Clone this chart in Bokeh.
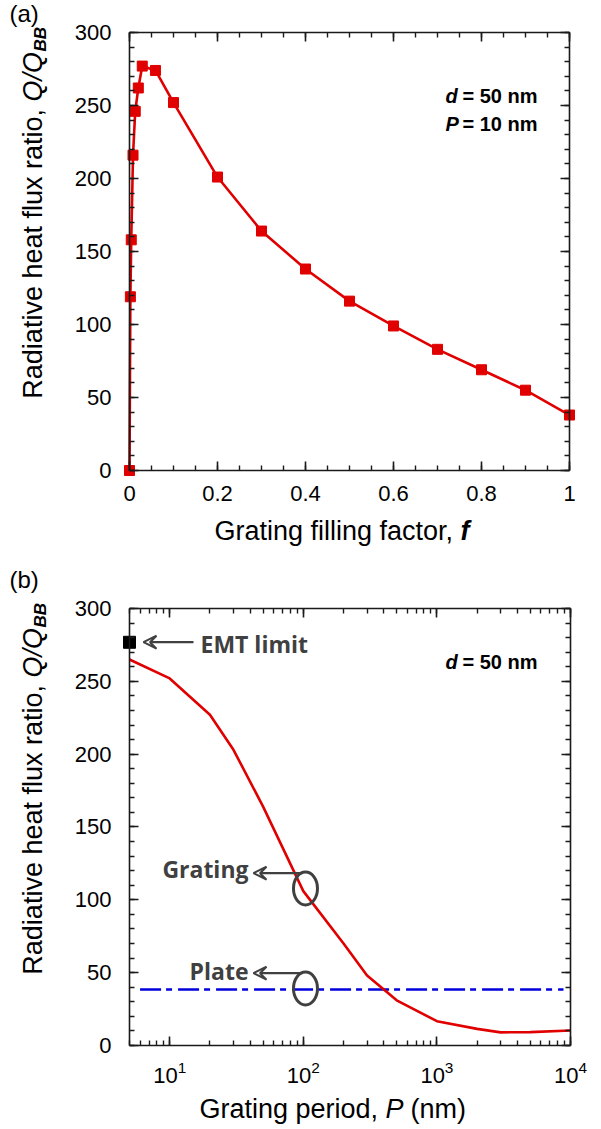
import numpy as np
from bokeh.plotting import figure
from bokeh.models import (Range1d, LinearAxis, LogAxis, FixedTicker, LogTicker,
                          SingleIntervalTicker, Label, Arrow, VeeHead,
                          CustomJSTickFormatter)
from bokeh.layouts import column
from bokeh.embed import file_html
from bokeh.resources import INLINE

# ---------------- data: panel (a) ----------------
fill_factor = [0.0, 0.002, 0.004, 0.008, 0.013, 0.02, 0.029, 0.059, 0.1,
               0.2, 0.3, 0.4, 0.5, 0.6, 0.7, 0.8, 0.9, 1.0]
flux_ratio_a = [0, 119, 158, 216, 246, 262, 277, 274, 252,
                201, 164, 138, 116, 99, 83, 69, 55, 38]
f_ticks = [0.0, 0.2, 0.4, 0.6, 0.8, 1.0]
f_tick_labels = ["0", "0.2", "0.4", "0.6", "0.8", "1"]
f_minor_ticks = [0.05 * i for i in range(21)]

# ---------------- data: panel (b) ----------------
period = [5, 10, 20, 30, 50, 100, 200, 300, 500, 1000, 2000, 3000, 5000, 10000]
flux_ratio_grating = [265, 252, 227, 203, 164, 106, 70, 48, 31, 16.7, 11.4, 9.0, 9.2, 10.3]
plate_period = [6.0, 8860]
plate_ratio = [38.4, 38.4]
emt_period = [5]
emt_ratio = [276.8]
ring_period = [103.8, 103.8]
ring_ratio = [107.8, 39.1]

RED = "#e00000"
GRAY = "#404040"
AX = "#1a1a1a"
FONT = "Liberation Sans"
blank = CustomJSTickFormatter(code="return ''")

# page-pixel -> data helpers (used only to place annotations / canvas extents)
def ax_(px): return (px - 129) / 440.0
def ay_(py): return (470 - py) / 1.46
LOG5 = np.log10(5)
def bx_(px): return 10 ** (LOG5 + (px - 129) / 133.6)
def by_(py): return (1045 - py) / 1.4567


def style_axis(ax, labels=True, standoff=17):
    ax.axis_line_color = AX
    ax.axis_line_width = 1.6
    ax.major_tick_in = 9
    ax.major_tick_out = 0
    ax.minor_tick_in = 5
    ax.minor_tick_out = 0
    ax.major_tick_line_color = AX
    ax.minor_tick_line_color = AX
    ax.major_tick_line_width = 1.6
    ax.minor_tick_line_width = 1.4
    ax.major_label_text_font = FONT
    ax.major_label_text_font_size = "22px"
    ax.major_label_text_color = "black"
    ax.major_label_standoff = standoff
    if not labels:
        ax.formatter = blank
        ax.major_label_standoff = 0


def lab(p, x, y, text, size="27px", style="normal", font=FONT,
        align="left", baseline="middle", angle=0.0, color="black"):
    p.add_layout(Label(x=x, y=y, text=text, text_font=font, text_font_size=size,
                       text_font_style=style, text_align=align,
                       text_baseline=baseline, angle=angle, text_color=color))


def base_fig(height, x_range, y_range, **kw):
    p = figure(width=600, height=height, x_range=x_range, y_range=y_range,
               output_backend="svg", toolbar_location=None,
               min_border_left=0, min_border_right=0, min_border_top=0,
               min_border_bottom=0, **kw)
    p.grid.visible = False
    p.outline_line_color = None
    return p


# ================= panel (a) =================
p1 = base_fig(550, Range1d(ax_(0), ax_(600)), Range1d(ay_(550), ay_(0)))

xt1 = FixedTicker(ticks=f_ticks, minor_ticks=f_minor_ticks)
yt1 = SingleIntervalTicker(interval=50, num_minor_ticks=5)
bx1 = p1.xaxis[0]
ly1 = p1.yaxis[0]
bx1.ticker = xt1
ly1.ticker = yt1
bx1.major_label_overrides = dict(zip(f_ticks, f_tick_labels))
style_axis(bx1, standoff=15)
style_axis(ly1, standoff=18)
bx1.fixed_location = 0
bx1.bounds = (0, 1)
ly1.fixed_location = 0
ly1.bounds = (0, 300)
top1 = LinearAxis(ticker=xt1, fixed_location=300, bounds=(0, 1))
right1 = LinearAxis(ticker=yt1, fixed_location=1, bounds=(0, 300))
style_axis(top1, labels=False)
style_axis(right1, labels=False)
p1.add_layout(top1, "above")
p1.add_layout(right1, "right")

p1.line(fill_factor, flux_ratio_a, line_color=RED, line_width=2.6)
p1.scatter(fill_factor, flux_ratio_a, marker="square", size=10,
           fill_color=RED, line_color=RED)

lab(p1, ax_(9), ay_(13), "(a)", size="24px")
lab(p1, ax_(445), ay_(95), "d", size="20px", style="bold italic")
lab(p1, ax_(462), ay_(95), "= 50 nm", size="20px", style="bold")
lab(p1, ax_(445), ay_(123), "P", size="20px", style="bold italic")
lab(p1, ax_(462), ay_(123), "= 10 nm", size="20px", style="bold")
# y title
lab(p1, ax_(32), ay_(101), "Radiative heat flux ratio, ", align="right", angle=np.pi / 2)
lab(p1, ax_(32), ay_(101), "Q/Q", style="italic", angle=np.pi / 2)
lab(p1, ax_(40), ay_(51), "BB", size="17px", style="bold italic", angle=np.pi / 2)
# x title
lab(p1, ax_(460), ay_(530), "Grating filling factor, ", align="right")
lab(p1, ax_(460), ay_(530), "f", style="bold italic")

# ================= panel (b) =================
p2 = base_fig(575, Range1d(bx_(0), bx_(600)), Range1d(by_(1125), by_(550)),
              x_axis_type="log")

xt2 = LogTicker(num_minor_ticks=10)
yt2 = SingleIntervalTicker(interval=50, num_minor_ticks=5)
bx2 = p2.xaxis[0]
ly2 = p2.yaxis[0]
bx2.ticker = xt2
ly2.ticker = yt2
style_axis(bx2, standoff=15)
style_axis(ly2, standoff=18)
bx2.fixed_location = 0
bx2.bounds = (5, 1e4)
ly2.fixed_location = 5
ly2.bounds = (0, 300)
top2 = LogAxis(ticker=xt2, fixed_location=300, bounds=(5, 1e4))
right2 = LinearAxis(ticker=yt2, fixed_location=1e4, bounds=(0, 300))
style_axis(top2, labels=False)
style_axis(right2, labels=False)
p2.add_layout(top2, "above")
p2.add_layout(right2, "right")

p2.line(plate_period, plate_ratio, line_color="#0000dd", line_width=2.6,
        line_dash="21 5 6 6")
p2.line(period, flux_ratio_grating, line_color=RED, line_width=2.6)
p2.scatter(emt_period, emt_ratio, marker="square", size=12,
           fill_color="black", line_color="black")
p2.ellipse(ring_period, ring_ratio, width=24, height=33,
           width_units="screen", height_units="screen",
           fill_color=None, line_color=GRAY, line_width=3)

arrow_head = dict(size=13, line_color=GRAY, line_width=2, fill_color="white")
for (xs, xe, yy) in [(193, 143, 641.7), (302, 253, 872.7), (302, 253, 972.7)]:
    p2.add_layout(Arrow(end=VeeHead(**arrow_head), x_start=bx_(xs), y_start=by_(yy),
                        x_end=bx_(xe), y_end=by_(yy), line_color=GRAY, line_width=2.2))

lab(p2, bx_(200), by_(643), "EMT limit", size="23px", style="bold", font="Open Sans",
    color=GRAY)
lab(p2, bx_(248), by_(868), "Grating", size="23px", style="bold", font="Open Sans",
    align="right", color=GRAY)
lab(p2, bx_(248), by_(970), "Plate", size="23px", style="bold", font="Open Sans",
    align="right", color=GRAY)

lab(p2, bx_(9), by_(579), "(b)", size="24px")
lab(p2, bx_(445), by_(661), "d", size="20px", style="bold italic")
lab(p2, bx_(462), by_(661), "= 50 nm", size="20px", style="bold")
# y title
lab(p2, bx_(32), by_(677), "Radiative heat flux ratio, ", align="right", angle=np.pi / 2)
lab(p2, bx_(32), by_(677), "Q/Q", style="italic", angle=np.pi / 2)
lab(p2, bx_(40), by_(627), "BB", size="17px", style="bold italic", angle=np.pi / 2)
# x title
lab(p2, bx_(385), by_(1108), "Grating period, ", align="right")
lab(p2, bx_(385), by_(1108), "P", style="italic")
lab(p2, bx_(410), by_(1108), "(nm)")

layout = column(p1, p2, spacing=0)
open("out.html", "w").write(file_html(layout, INLINE))
